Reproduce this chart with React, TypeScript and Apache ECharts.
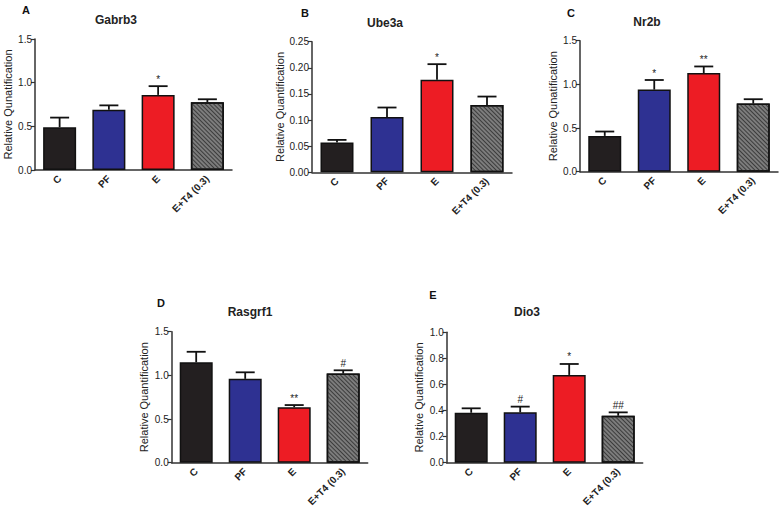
import React, { useEffect, useRef } from "react";
import * as echarts from "echarts";

const categories = ["C", "PF", "E", "E+T4 (0.3)"];

const gabrb3Mean = [0.49, 0.69, 0.86, 0.775];
const gabrb3Sem = [0.11, 0.05, 0.1, 0.035];
const gabrb3Marks = ["", "", "*", ""];

const ube3aMean = [0.057, 0.106, 0.177, 0.129];
const ube3aSem = [0.005, 0.018, 0.03, 0.016];
const ube3aMarks = ["", "", "*", ""];

const nr2bMean = [0.41, 0.94, 1.13, 0.78];
const nr2bSem = [0.05, 0.11, 0.075, 0.05];
const nr2bMarks = ["", "*", "**", ""];

const rasgrf1Mean = [1.15, 0.96, 0.635, 1.02];
const rasgrf1Sem = [0.12, 0.075, 0.025, 0.038];
const rasgrf1Marks = ["", "", "**", "#"];

const dio3Mean = [0.383, 0.386, 0.673, 0.36];
const dio3Sem = [0.034, 0.044, 0.084, 0.026];
const dio3Marks = ["", "#", "*", "##"];

const FONT = "Liberation Sans, Arial, sans-serif";

type Panel = {
  letter: string;
  title: string;
  yName: string;
  mean: number[];
  sem: number[];
  marks: string[];
  yMax: number;
  yInterval: number;
  decimals: number;
  grid: { left: number; top: number; width: number; height: number };
  nameGap: number;
  letterPos: [number, number];
  titlePos: [number, number];
};

const panels: Panel[] = [
  {
    letter: "A", title: "Gabrb3", yName: "Relative Qunatification",
    mean: gabrb3Mean, sem: gabrb3Sem, marks: gabrb3Marks,
    yMax: 1.5, yInterval: 0.5, decimals: 1,
    grid: { left: 35, top: 39, width: 197, height: 131 }, nameGap: 22,
    letterPos: [26, 10], titlePos: [116, 20],
  },
  {
    letter: "B", title: "Ube3a", yName: "Relative Quantification",
    mean: ube3aMean, sem: ube3aSem, marks: ube3aMarks,
    yMax: 0.25, yInterval: 0.05, decimals: 2,
    grid: { left: 312, top: 41.7, width: 200, height: 130.6 }, nameGap: 27,
    letterPos: [305, 13], titlePos: [385, 23],
  },
  {
    letter: "C", title: "Nr2b", yName: "Relative Qunatification",
    mean: nr2bMean, sem: nr2bSem, marks: nr2bMarks,
    yMax: 1.5, yInterval: 0.5, decimals: 1,
    grid: { left: 580, top: 40.7, width: 198, height: 131 }, nameGap: 22,
    letterPos: [571, 13], titlePos: [647, 22],
  },
  {
    letter: "D", title: "Rasgrf1", yName: "Relative Quantification",
    mean: rasgrf1Mean, sem: rasgrf1Sem, marks: rasgrf1Marks,
    yMax: 1.5, yInterval: 0.5, decimals: 1,
    grid: { left: 171.7, top: 331.7, width: 196, height: 131 }, nameGap: 22,
    letterPos: [161, 303], titlePos: [250, 312],
  },
  {
    letter: "E", title: "Dio3", yName: "Relative Quantification",
    mean: dio3Mean, sem: dio3Sem, marks: dio3Marks,
    yMax: 1.0, yInterval: 0.2, decimals: 1,
    grid: { left: 446.7, top: 332.3, width: 196, height: 130.4 }, nameGap: 22,
    letterPos: [433, 295], titlePos: [527, 312],
  },
];

const barColors = ["#231f20", "#2e3192", "#ed1c24", "#7c7c7c"];

export default function App() {
  const ref = useRef<HTMLDivElement>(null);
  useEffect(() => {
    if (!ref.current) return;
    const chart = echarts.init(ref.current, undefined, { renderer: "svg" });
    const axisColor = "#333";
    const grids: any[] = [];
    const xAxes: any[] = [];
    const yAxes: any[] = [];
    const series: any[] = [];
    const graphics: any[] = [];

    panels.forEach((p, i) => {
      grids.push({ ...p.grid, containLabel: false });
      xAxes.push({
        type: "category",
        gridIndex: i,
        data: categories,
        axisLine: { lineStyle: { color: axisColor, width: 1.5 } },
        axisTick: { show: false },
        axisLabel: {
          rotate: 45,
          interval: 0,
          margin: 7,
          fontSize: 10,
          fontWeight: "bold",
          fontFamily: FONT,
          color: "#222",
        },
      });
      yAxes.push({
        type: "value",
        gridIndex: i,
        min: 0,
        max: p.yMax,
        interval: p.yInterval,
        name: p.yName,
        nameLocation: "middle",
        nameGap: p.nameGap,
        nameRotate: 90,
        nameTextStyle: { fontSize: 11, fontFamily: FONT, color: "#222" },
        splitLine: { show: false },
        axisLine: { show: true, lineStyle: { color: axisColor, width: 1.5 } },
        axisTick: { show: true, length: 4, lineStyle: { color: axisColor, width: 1.2 } },
        axisLabel: {
          margin: 3,
          fontSize: 10,
          fontFamily: FONT,
          color: "#222",
          formatter: (v: number) => v.toFixed(p.decimals),
        },
      });
      series.push({
        type: "bar",
        xAxisIndex: i,
        yAxisIndex: i,
        barWidth: 33,
        data: p.mean.map((v, k) => ({
          value: v,
          itemStyle: {
            color: barColors[k],
            borderColor: "#111",
            borderWidth: 1.5,
            decal:
              k === 3
                ? {
                    symbol: "rect",
                    color: "#3c3c3c",
                    dashArrayX: [1, 0],
                    dashArrayY: [1, 2],
                    rotation: Math.PI / 4,
                  }
                : undefined,
          },
        })),
      });
      const marks = p.marks;
      series.push({
        type: "custom",
        xAxisIndex: i,
        yAxisIndex: i,
        z: 5,
        itemStyle: { color: "#222" },
        data: p.mean.map((v, k) => [k, v, p.sem[k]]),
        renderItem: (params: any, api: any) => {
          const x = api.value(0);
          const m = api.value(1);
          const s = api.value(2);
          const p0 = api.coord([x, m]);
          const p1 = api.coord([x, m + s]);
          const half = 9.5;
          const children: any[] = [
            {
              type: "line",
              shape: { x1: p0[0], y1: p0[1], x2: p1[0], y2: p1[1] },
              style: { stroke: "#111", lineWidth: 1.8 },
            },
            {
              type: "line",
              shape: { x1: p1[0] - half, y1: p1[1], x2: p1[0] + half, y2: p1[1] },
              style: { stroke: "#111", lineWidth: 1.8 },
            },
          ];
          const t = marks[params.dataIndex];
          if (t) {
            children.push({
              type: "text",
              x: p1[0],
              y: p1[1] - 2,
              style: {
                text: t,
                fontSize: 10,
                fontFamily: FONT,
                fill: "#222",
                align: "center",
                verticalAlign: "bottom",
              },
            });
          }
          return { type: "group", children };
        },
      });
      graphics.push({
        type: "text",
        x: p.letterPos[0],
        y: p.letterPos[1],
        style: {
          text: p.letter,
          fontSize: 11,
          fontWeight: "bold",
          fontFamily: FONT,
          fill: "#111",
          align: "center",
          verticalAlign: "middle",
        },
      });
      graphics.push({
        type: "text",
        x: p.titlePos[0],
        y: p.titlePos[1],
        style: {
          text: p.title,
          fontSize: 12,
          fontWeight: "bold",
          fontFamily: FONT,
          fill: "#222",
          align: "center",
          verticalAlign: "middle",
        },
      });
    });

    chart.setOption({
      animation: false,
      backgroundColor: "#fff",
      color: ["#222"],
      grid: grids,
      xAxis: xAxes,
      yAxis: yAxes,
      series,
      graphic: graphics,
    });
    return () => chart.dispose();
  }, []);
  return (
    <div
      ref={ref}
      style={{ position: "fixed", left: 0, top: 0, width: 782, height: 509, background: "#fff" }}
    />
  );
}
